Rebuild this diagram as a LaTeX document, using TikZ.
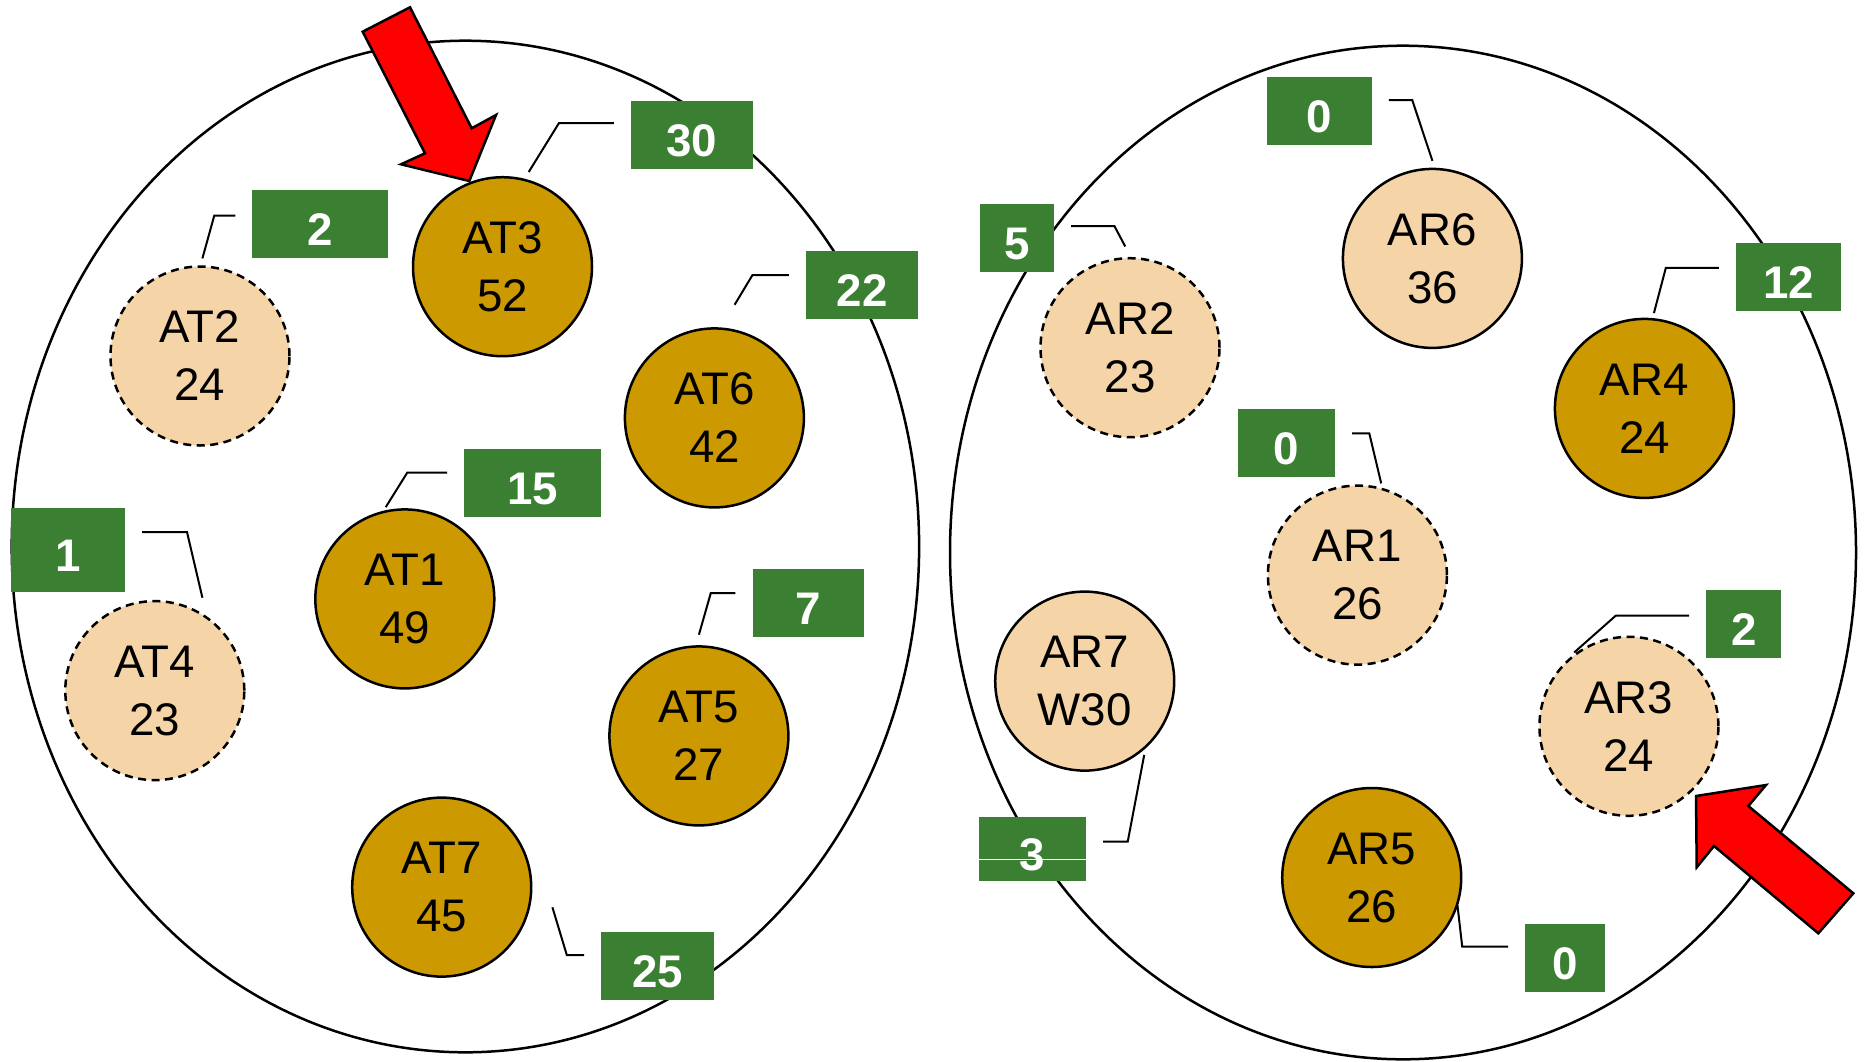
\documentclass[tikz,border=0pt]{standalone}
\usepackage{fontspec}
\setmainfont{Liberation Sans}
\usetikzlibrary{shapes.geometric}
\definecolor{gold}{RGB}{204,153,0}
\definecolor{peach}{RGB}{245,213,168}
\definecolor{tagGreen}{RGB}{59,127,50}
\tikzset{
  gnode/.style={
    % The shape:
    shape=circle,minimum size=17.9mm,inner sep=0pt,
    % The border:
    line width=0.25mm,draw=black,
    % The filling:
    fill=gold,
    align=center,font=\fontsize{13}{16.5}\selectfont}}
\tikzset{
  pnode/.style={gnode,fill=peach}}
\tikzset{
  pdash/.style={pnode,dash pattern=on 0.8mm off 0.55mm}}
\tikzset{
	tag/.style={
		% The shape:
		rectangle,minimum height=6.8mm,inner sep=0pt,
		% The rest
		fill=tagGreen,text=white,text height=4.3mm,text depth=0pt,
		font=\fontsize{13}{15}\selectfont\bfseries}}
\tikzset{
	leader/.style={draw=black,line width=0.2mm,shorten >=1.65mm}}

\begin{document}
\begin{tikzpicture}[x=0.1mm,y=-0.1mm]
	\useasboundingbox (0,0) rectangle (1867,1061);
	% The two rings
	\draw[line width=0.25mm] (465.4,546.5) ellipse [x radius=453.7,y radius=505.8];
	\draw[line width=0.25mm] (1403,552.5) ellipse [x radius=453,y radius=506.8];
	% Left ring
	\node[gnode] (at3) at (502.5,266.7) {AT3\\52};
	\node[pdash] (at2) at (200.0,356.0) {AT2\\24};
	\node[gnode] (at6) at (714.4,417.9) {AT6\\42};
	\node[gnode] (at1) at (404.8,598.9) {AT1\\49};
	\node[pdash] (at4) at (154.8,690.6) {AT4\\23};
	\node[gnode] (at5) at (698.9,735.9) {AT5\\27};
	\node[gnode] (at7) at (441.7,887.1) {AT7\\45};
	% Right ring
	\node[pnode] (ar6) at (1432.4,258.4) {AR6\\36};
	\node[pdash] (ar2) at (1130.0,347.7) {AR2\\23};
	\node[gnode] (ar4) at (1644.4,408.4) {AR4\\24};
	\node[pdash] (ar1) at (1357.4,575.1) {AR1\\26};
	\node[pnode] (ar7) at (1084.7,681.1) {AR7\\W30};
	\node[pdash] (ar3) at (1628.9,726.3) {AR3\\24};
	\node[gnode] (ar5) at (1371.7,877.5) {AR5\\26};
	% Tags of the left ring
	\node[tag,minimum width=12.15mm] (lat3) at (691.8,135.1) {30};
	\node[tag,minimum width=13.57mm] (lat2) at (320.3,224.4) {2};
	\node[tag,minimum width=11.19mm] (lat6) at (862.1,285.2) {22};
	\node[tag,minimum width=13.69mm] (lat1) at (532.8,482.8) {15};
	\node[tag,minimum width=11.4mm,minimum height=8.46mm] (lat4) at (68,550) {1};
	\node[tag,minimum width=11.19mm] (lat5) at (808.5,603.1) {7};
	\node[tag,minimum width=11.31mm] (lat7) at (657.9,966.2) {25};
	% Tags of the right ring
	\node[tag,minimum width=10.48mm] (lar6) at (1319.3,110.7) {0};
	\node[tag,minimum width=7.38mm] (lar2) at (1016.9,238.1) {5};
	\node[tag,minimum width=10.48mm] (lar4) at (1788.4,276.8) {12};
	\node[tag,minimum width=9.64mm] (lar1) at (1286.6,442.9) {0};
	\node[tag,minimum width=7.5mm] (lar3) at (1743.8,623.9) {2};
	\node[tag,minimum width=10.7mm,minimum height=6.4mm] (lar7) at (1032.5,848.7) {3};
	\node[tag,minimum width=7.98mm] (lar5) at (1565.2,957.9) {0};
	\draw[white,line width=0.1mm] ([yshift=-1.06mm]lar7.west) -- ([yshift=-1.06mm]lar7.east);
	% Bends of the leaders
	\coordinate (kat3) at (559,123);
	\coordinate (kat2) at (214.3,215.5);
	\coordinate (kat6) at (752.5,275);
	\coordinate (kat1) at (407.2,472.7);
	\coordinate (kat4) at (187,532);
	\coordinate (kat5) at (710.8,593);
	\coordinate (kat7) at (566.8,955);
	\coordinate (kar6) at (1412.2,100);
	\coordinate (kar2) at (1114.5,226.2);
	\coordinate (kar4) at (1665.8,267.9);
	\coordinate (kar1) at (1369.3,433.4);
	\coordinate (kar3) at (1615.8,615.6);
	\coordinate (kar7) at (1127.7,841.7);
	\coordinate (kar5) at (1462.2,946.6);
	% Leaders of the left ring
	\draw[leader] ([shift={(26.2,-94.7)}]at3.center) -- (kat3) -- (kat3 -| lat3.west);
	\draw[leader] ([shift={(2.4,-97.6)}]at2.center) -- (kat2) -- (kat2 -| lat2.west);
	\draw[leader] ([shift={(20.2,-113.1)}]at6.center) -- (kat6) -- (kat6 -| lat6.west);
	\draw[leader] ([shift={(-19.1,-91.7)}]at1.center) -- (kat1) -- (kat1 -| lat1.west);
	\draw[leader] ([shift={(47.6,-92.9)}]at4.center) -- (kat4) -- (kat4 -| lat4.east);
	\draw[leader] ([shift={(0,-101.2)}]at5.center) -- (kat5) -- (kat5 -| lat5.west);
	\draw[leader] ([shift={(110.7,20.2)}]at7.center) -- (kat7) -- (kat7 -| lat7.west);
	% Leaders of the right ring
	\draw[leader] ([shift={(0,-97.6)}]ar6.center) -- (kar6) -- (kar6 -| lar6.east);
	\draw[leader] ([shift={(-4.8,-101.2)}]ar2.center) -- (kar2) -- (kar2 -| lar2.east);
	\draw[leader] ([shift={(9.5,-95.3)}]ar4.center) -- (kar4) -- (kar4 -| lar4.west);
	\draw[leader] ([shift={(23.8,-91.7)}]ar1.center) -- (kar1) -- (kar1 -| lar1.east);
	\draw[leader] ([shift={(-54.8,-73.8)}]ar3.center) -- (kar3) -- (kar3 -| lar3.west);
	\draw[leader] ([shift={(59.5,73.8)}]ar7.center) -- (kar7) -- (kar7 -| lar7.east);
	\draw[leader] ([shift={(85.7,27.4)}]ar5.center) -- (kar5) -- (kar5 -| lar5.west);
	% Red block arrows
	\draw[fill=red,line width=0.25mm,line join=miter] (362.7,31.7) -- (410,7.3) -- (471.7,128.3) -- (496,115)
		-- (469.3,181) -- (401,164.3) -- (425,153.3) -- cycle;
	\draw[fill=red,line width=0.25mm,line join=miter] (1696,796) -- (1766,785) -- (1748.3,806) -- (1853.3,893.3)
		-- (1818.3,933.3) -- (1714,846) -- (1696.7,867.3) -- cycle;
\end{tikzpicture}
\end{document}
